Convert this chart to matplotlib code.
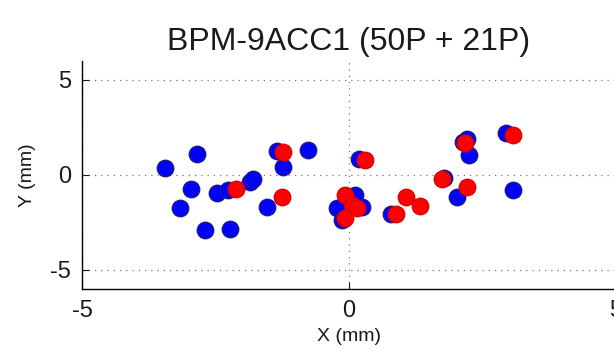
import matplotlib
matplotlib.use("Agg")
import matplotlib.pyplot as plt
import numpy as np

plt.rcParams['font.family'] = ['Liberation Sans', 'DejaVu Sans']
plt.rcParams['axes.unicode_minus'] = False

# 50P bunch positions (blue), mm
x50 = [-2.84, -3.45, -2.95, -3.16, -2.47, -2.26, -2.69, -2.22,
       -1.85, -1.79, -1.34, -1.24, -0.77, -1.54,
       0.19, 0.11, -0.23, 0.24, -0.14, 0.78,
       2.13, 2.20, 2.25, 2.94, 1.77, 2.03, 3.07]
y50 = [1.10, 0.35, -0.74, -1.75, -0.96, -0.79, -2.89, -2.84,
       -0.35, -0.23, 1.28, 0.44, 1.32, -1.70,
       0.84, -1.05, -1.75, -1.67, -2.37, -2.05,
       1.75, 1.88, 1.05, 2.19, -0.18, -1.18, -0.79]

# 21P bunch positions (red), mm
x21 = [-2.12, -1.24, -1.25, 0.29, -0.07, 0.05, 0.14, -0.07,
       0.88, 1.07, 1.33, 2.17, 3.07, 1.74, 2.20]
y21 = [-0.72, 1.19, -1.14, 0.79, -1.05, -1.58, -1.75, -2.28,
       -2.05, -1.18, -1.61, 1.70, 2.11, -0.23, -0.65]

title = 'BPM-9ACC1 (50P + 21P)'

fig = plt.figure(figsize=(6.14, 3.63), dpi=100)
ax = fig.add_axes([0.1336, 0.204, 0.8697, 0.628])

ax.scatter(x50, y50, s=140, marker='o', c='#0000ff', edgecolors='#1a1a8a', linewidths=1, zorder=3)
ax.scatter(x21, y21, s=140, marker='o', c='#ff0000', edgecolors='#e00000', linewidths=1, zorder=4)

ax.set_xlim(-5, 5)
ax.set_ylim(-6, 6)
ax.set_xticks([-5, 0, 5])
ax.set_yticks([-5, 0, 5])
ax.grid(True, color='#777777', linestyle=(0, (1, 4)), linewidth=0.9)
ax.tick_params(direction='in', length=5, labelsize=17, pad=8, colors='#1a1a1a')
for s in ['top', 'right']:
    ax.spines[s].set_visible(False)
ax.spines['left'].set_linewidth(1.0)
ax.spines['bottom'].set_linewidth(1.0)

ax.set_title(title, fontsize=23, pad=8, color='#1a1a1a')
ax.set_xlabel('X (mm)', fontsize=14, labelpad=4, color='#1a1a1a')
ax.set_ylabel('Y (mm)', fontsize=14, labelpad=10, color='#1a1a1a')

fig.savefig('out.png', dpi=100)
